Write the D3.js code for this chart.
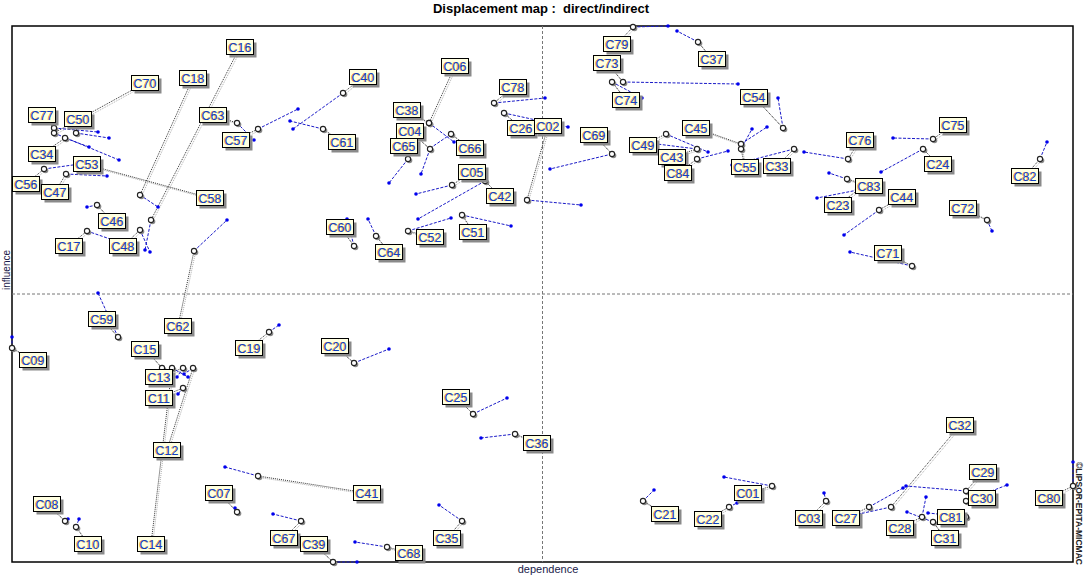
<!DOCTYPE html>
<html><head><meta charset="utf-8">
<script src="https://cdn.jsdelivr.net/npm/d3@7"></script>
<style>body{margin:0;background:#fff} svg{display:block}</style>
</head><body><svg id="chart" width="1087" height="579"></svg>
<script>
// ---- data (dependence / influence, direct and indirect) ----
const variables = ["C77","C50","C70","C34","C53","C56","C47","C58","C46","C17","C48","C16","C18","C63","C57","C40","C61","C62","C06","C38","C66","C04","C65","C05","C42","C52","C51","C60","C64","C78","C26","C02","C69","C79","C37","C73","C74","C54","C45","C55","C49","C43","C84","C33","C76","C75","C24","C83","C23","C44","C72","C82","C71","C09","C59","C15","C13","C14","C12","C11","C19","C20","C25","C36","C08","C10","C07","C41","C67","C39","C68","C35","C21","C01","C22","C03","C27","C32","C29","C30","C81","C28","C31","C80"];
const dependenceDirect = [42,64,42,53,72,32,54,84,85,75,128,139,128,225,246,331,311,182,417,417,439,418,396,440,473,396,450,342,364,482,492,515,600,621,686,611,600,771,729,729,654,685,685,782,836,921,911,835,846,867,975,1028,900,0,106,150,171,160,181,171,257,342,461,503,53,64,225,246,289,321,375,450,631,760,717,814,857,879,954,954,954,910,921,1061];
const influenceDirect = [434,429,429,424,398,393,388,395,357,331,332,342,367,439,433,469,433,311,439,439,428,413,403,377,381,331,347,316,326,459,449,362,408,535,520,480,480,434,418,413,428,413,403,413,403,423,413,383,372,352,342,403,296,214,225,194,194,194,194,174,230,199,148,128,41,35,50,86,41,0,15,41,61,76,55,61,55,55,71,61,45,45,40,76];
const dependenceIndirect = [86,97,107,77,74,68,95,87,75,101,138,133,146,242,286,281,278,215,442,419,417,409,377,404,406,439,499,335,356,533,556,569,538,656,665,726,630,766,755,740,696,645,716,720,792,881,869,817,805,832,980,1035,838,0,86,150,165,176,172,166,267,377,495,469,56,67,223,213,261,345,343,427,642,712,725,812,891,847,894,995,916,914,895,1061];
const influenceIndirect = [430,424,402,415,397,398,386,394,355,322,310,312,355,422,453,433,441,342,420,438,413,388,379,368,343,344,336,343,343,464,435,357,393,536,531,478,464,464,435,433,410,418,411,397,410,424,390,389,364,327,331,420,310,225,269,194,185,185,188,168,237,213,164,124,43,43,54,95,48,0,20,57,72,85,59,69,74,48,76,77,49,65,50,100];

// ---- layout only: label offsets (px) from the direct point ----
const labelOffsets = [[-12,-13],[2,-14],[91,-50],[-23,16],[3,0],[-18,15],[-11,18],[114,31],[15,16],[-18,15],[-17,16],[89,-173],[53,-117],[-24,-8],[-22,11],[20,-16],[19,13],[-16,75],[26,-57],[-22,-13],[19,14],[-20,-18],[-4,-13],[20,-13],[15,15],[22,6],[11,17],[-14,-19],[13,16],[19,-16],[17,15],[21,-74],[-18,-19],[-16,17],[14,17],[-16,-19],[14,18],[-29,-31],[-45,-16],[4,18],[-23,11],[-25,8],[-19,14],[-17,17],[12,-19],[20,-14],[15,15],[22,7],[-20,15],[23,-13],[-24,-12],[-15,17],[-24,-13],[21,12],[-16,-18],[-17,-19],[-24,9],[-21,176],[-26,82],[-24,10],[-20,16],[-19,-17],[-17,-17],[22,9],[-18,-17],[12,17],[-18,-19],[109,17],[-17,17],[-19,-18],[22,6],[-15,17],[22,13],[-24,7],[-21,12],[-17,17],[-23,11],[69,-82],[17,-19],[16,-3],[-15,0],[-22,11],[12,16],[-24,12]];

const title = "Displacement map :  direct/indirect";
const xAxisLabel = "dependence";
const yAxisLabel = "influence";
const copyright = "\u00A9LIPSOR-EPITA-MICMAC";

const data = variables.map((name,i)=>({name, dx:dependenceDirect[i], dy:influenceDirect[i], ix:dependenceIndirect[i], iy:influenceIndirect[i], off:labelOffsets[i]}));

const svg = d3.select("#chart");
const L=12, R=1073, T=26, B=562;
const x = d3.scaleLinear().domain([0,1061]).range([L,R]);
const y = d3.scaleLinear().domain([0,536]).range([B,T]);

svg.append("text").attr("x",541).attr("y",13).attr("text-anchor","middle").style("white-space","pre")
  .attr("font-family","Liberation Sans, Arial, sans-serif").attr("font-weight","bold").attr("font-size",13).text(title);

// frame
svg.append("rect").attr("x",L).attr("y",T).attr("width",R-L).attr("height",B-T)
  .attr("fill","none").attr("stroke","#000").attr("stroke-width",1.5);
// quadrant lines at domain centre
const xm = d3.mean(x.domain()), ym = d3.mean(y.domain());
svg.append("line").attr("x1",x(xm)).attr("x2",x(xm)).attr("y1",T).attr("y2",B)
  .attr("stroke","#777").attr("stroke-dasharray","3,2");
svg.append("line").attr("x1",L).attr("x2",R).attr("y1",y(ym)).attr("y2",y(ym))
  .attr("stroke","#777").attr("stroke-dasharray","3,2");

svg.append("text").attr("x",548).attr("y",573).attr("text-anchor","middle")
  .attr("font-family","Liberation Sans, Arial, sans-serif").attr("font-size",11).attr("fill","#1a1a4a").text(xAxisLabel);
svg.append("text").attr("transform","translate(9.5,270) rotate(-90)").attr("text-anchor","middle")
  .attr("font-family","Liberation Sans, Arial, sans-serif").attr("font-size",10).attr("fill","#1a1a4a").text(yAxisLabel);
svg.append("text").attr("transform","translate(1075.5,462) rotate(90)").attr("text-anchor","start")
  .attr("font-family","Liberation Sans, Arial, sans-serif").attr("font-size",8.5).attr("font-weight","bold").attr("fill","#222").text(copyright);

const lx = d=>x(d.dx)+d.off[0], ly = d=>y(d.dy)+d.off[1];

// connectors label -> direct point
const g1 = svg.append("g");
g1.selectAll("line.cs").data(data).join("line").attr("class","cs")
  .attr("x1",d=>lx(d)+1.5).attr("y1",d=>ly(d)+1.5).attr("x2",d=>x(d.dx)+1.5).attr("y2",d=>y(d.dy)+1.5)
  .attr("stroke","#b0b0b0").attr("stroke-dasharray","1,1");
g1.selectAll("line.c").data(data).join("line").attr("class","c")
  .attr("x1",d=>lx(d)).attr("y1",d=>ly(d)).attr("x2",d=>x(d.dx)).attr("y2",d=>y(d.dy))
  .attr("stroke","#333").attr("stroke-dasharray","1,1");

// displacement lines direct -> indirect
const g2 = svg.append("g");
g2.selectAll("line").data(data).join("line")
  .attr("x1",d=>x(d.dx)).attr("y1",d=>y(d.dy)).attr("x2",d=>x(d.ix)).attr("y2",d=>y(d.iy))
  .attr("stroke","#1a1ac8").attr("stroke-width",1).attr("stroke-dasharray","3,1.5");
g2.selectAll("circle").data(data).join("circle")
  .attr("cx",d=>x(d.ix)).attr("cy",d=>y(d.iy)).attr("r",1.8).attr("fill","#0000ee");

// direct points
const g3 = svg.append("g");
g3.selectAll("circle.s").data(data).join("circle").attr("class","s")
  .attr("cx",d=>x(d.dx)+1.5).attr("cy",d=>y(d.dy)+1.5).attr("r",2.8).attr("fill","#888");
g3.selectAll("circle.p").data(data).join("circle").attr("class","p")
  .attr("cx",d=>x(d.dx)).attr("cy",d=>y(d.dy)).attr("r",2.6).attr("fill","#fff").attr("stroke","#222").attr("stroke-width",1.1);

// labels
const g4 = svg.append("g").attr("font-family","Liberation Sans, Arial, sans-serif").attr("font-size",12.5);
const lab = g4.selectAll("g").data(data).join("g").attr("transform",d=>`translate(${lx(d)},${ly(d)})`);
const bw=27, bh=15;
lab.append("rect").attr("x",-bw/2+3).attr("y",-bh/2+3).attr("width",bw).attr("height",bh).attr("fill","#8a8a8a");
lab.append("rect").attr("x",-bw/2).attr("y",-bh/2).attr("width",bw).attr("height",bh).attr("fill","#ffffe1").attr("stroke","#000").attr("stroke-width",1);
lab.append("text").attr("x",-0.7).attr("y",4.6).attr("text-anchor","middle").attr("fill","#e8a020").text(d=>d.name);
lab.append("text").attr("x",0).attr("y",4.6).attr("text-anchor","middle").attr("fill","#1040c0").text(d=>d.name);
</script></body></html>
